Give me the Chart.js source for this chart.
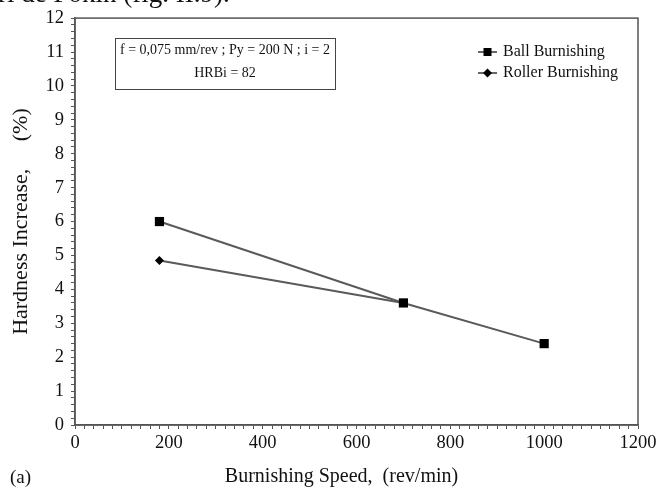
<!DOCTYPE html>
<html>
<head>
<meta charset="utf-8">
<script src="https://cdn.jsdelivr.net/npm/chart.js@4.4.1/dist/chart.umd.min.js"></script>
<style>
  html, body { margin: 0; padding: 0; background: #fff; }
  #wrap { position: relative; width: 663px; height: 497px; overflow: hidden; }
  #page { position: absolute; left: -2px; top: -22px; font: 27px "Liberation Serif", serif; color: #111; white-space: nowrap; }
  #tag { position: absolute; left: 10px; top: 466px; font: 19px "Liberation Serif", serif; color: #111; }
</style>
</head>
<body>
<div id="wrap">
  <canvas id="chart" width="663" height="497"></canvas>
  <div id="page">ri de Fokin (fig. II.9).</div>
  <div id="tag">(a)</div>
</div>
<script>
// data
const ballSpeeds = [180, 700, 1000];
const ballHardness = [6.0, 3.6, 2.4];
const rollerSpeeds = [180, 700];
const rollerHardness = [4.85, 3.6];
const seriesNames = ["Ball Burnishing", "Roller Burnishing"];
const noteLines = ["f = 0,075 mm/rev ; Py = 200 N ; i = 2", "HRBi = 82"];

const serif = "'Liberation Serif', 'Times New Roman', serif";

function toPoints(xs, ys) {
  return xs.map((x, i) => ({ x: x, y: ys[i] }));
}

// frame, note box and legend drawn on top of the chart area
const extras = {
  id: "extras",
  afterDraw(chart) {
    const ctx = chart.ctx;
    const a = chart.chartArea;
    ctx.save();
    ctx.strokeStyle = "#555";
    ctx.lineWidth = 1.5;
    ctx.strokeRect(a.left, a.top, a.right - a.left, a.bottom - a.top);

    // note box
    ctx.strokeStyle = "#444";
    ctx.lineWidth = 1;
    ctx.strokeRect(115.5, 38.5, 220, 51);
    ctx.fillStyle = "#111";
    ctx.font = "14px " + serif;
    ctx.textAlign = "center";
    ctx.textBaseline = "middle";
    ctx.fillText(noteLines[0], 225, 50);
    ctx.fillText(noteLines[1], 225, 73);

    // legend
    const rows = [52, 73];
    chart.data.datasets.forEach((ds, i) => {
      const y = rows[i];
      ctx.strokeStyle = "#333";
      ctx.lineWidth = 1.5;
      ctx.beginPath();
      ctx.moveTo(478, y);
      ctx.lineTo(497, y);
      ctx.stroke();
      ctx.fillStyle = "#000";
      ctx.beginPath();
      if (ds.pointStyle === "rect") {
        ctx.rect(483.5, y - 4, 8, 8);
      } else {
        ctx.moveTo(487.5, y - 4.5);
        ctx.lineTo(492, y);
        ctx.lineTo(487.5, y + 4.5);
        ctx.lineTo(483, y);
        ctx.closePath();
      }
      ctx.fill();
      ctx.fillStyle = "#111";
      ctx.font = "16px " + serif;
      ctx.textAlign = "left";
      ctx.fillText(ds.label, 503, y);
    });
    ctx.restore();
  }
};

new Chart(document.getElementById("chart"), {
  type: "scatter",
  data: {
    datasets: [
      {
        label: seriesNames[0],
        data: toPoints(ballSpeeds, ballHardness),
        showLine: true,
        borderColor: "#5a5a5a",
        borderWidth: 2,
        pointStyle: "rect",
        pointRadius: 6.5,
        pointBackgroundColor: "#000",
        pointBorderColor: "#000",
        pointBorderWidth: 0
      },
      {
        label: seriesNames[1],
        data: toPoints(rollerSpeeds, rollerHardness),
        showLine: true,
        borderColor: "#5a5a5a",
        borderWidth: 2,
        pointStyle: "rectRot",
        pointRadius: 4.5,
        pointBackgroundColor: "#000",
        pointBorderColor: "#000",
        pointBorderWidth: 0
      }
    ]
  },
  options: {
    responsive: false,
    animation: false,
    layout: { padding: { left: 0, right: 25, top: 15, bottom: 0 } },
    plugins: { legend: { display: false }, tooltip: { enabled: false } },
    scales: {
      x: {
        type: "linear",
        min: 0,
        max: 1200,
        afterFit(scale) { scale.height = 72; },
        border: { display: true, color: "#555", width: 1.5 },
        grid: { drawOnChartArea: false, tickLength: 4, color: "#555" },
        ticks: {
          stepSize: 20,
          autoSkip: false,
          maxTicksLimit: 100,
          maxRotation: 0,
          padding: 3,
          color: "#111",
          font: { family: serif, size: 18.5 },
          callback: v => (v % 200 === 0 ? String(v) : "")
        },
        title: {
          display: true,
          // trailing spaces nudge the centred title a little to the left, as in the figure
          text: "Burnishing Speed,  (rev/min)      ",
          color: "#111",
          font: { family: serif, size: 20, lineHeight: 1.2 },
          padding: { top: 0, bottom: 8 }
        }
      },
      y: {
        type: "linear",
        min: 0,
        max: 12,
        afterFit(scale) { scale.width = 75; },
        border: { display: true, color: "#555", width: 1.5 },
        grid: { drawOnChartArea: false, tickLength: 4, color: "#555" },
        ticks: {
          stepSize: 0.2,
          autoSkip: false,
          maxTicksLimit: 100,
          padding: 7,
          color: "#111",
          font: { family: serif, size: 18.5 },
          callback: v => (Math.abs(v - Math.round(v)) < 1e-6 ? String(Math.round(v)) : "")
        },
        title: {
          display: true,
          text: "Hardness Increase,     (%)",
          color: "#111",
          font: { family: serif, size: 22, lineHeight: 1.2 },
          padding: { top: 8, bottom: 0 }
        }
      }
    }
  },
  plugins: [extras]
});
</script>
</body>
</html>
